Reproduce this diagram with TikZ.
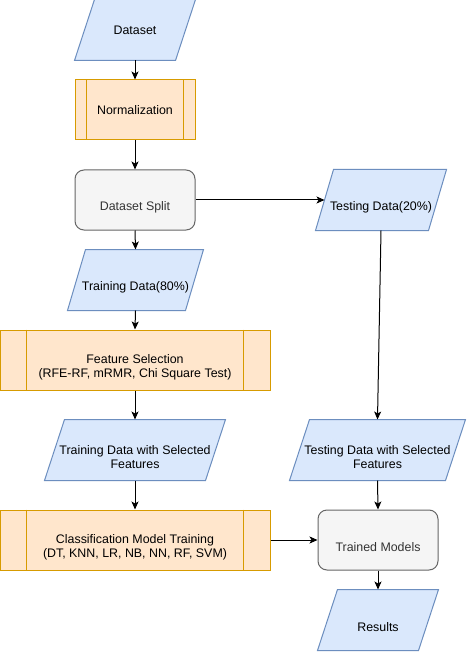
\documentclass[tikz,border=0pt]{standalone}
\usepackage{fontspec}
\setmainfont{Liberation Sans}
\usetikzlibrary{arrows.meta}
\definecolor{bfill}{HTML}{DAE8FC}
\definecolor{bline}{HTML}{6C8EBF}
\definecolor{ofill}{HTML}{FFE6CC}
\definecolor{oline}{HTML}{D79B00}
\definecolor{gfill}{HTML}{F5F5F5}
\definecolor{gline}{HTML}{666666}
\definecolor{gtext}{HTML}{333333}
\begin{document}
\begin{tikzpicture}[x=1pt,y=-1pt,line width=1pt,
  base/.style={inner sep=0pt,minimum height=60pt},
  io/.style={base},
  proc/.style={base,draw=oline,fill=ofill,minimum width=#1},
  term/.style={base,draw=gline,fill=gfill,rounded corners=9pt,minimum width=120pt},
  txt/.style={font=\fontsize{12.4}{14}\selectfont,align=center,inner sep=0pt,text=black},
  txtd/.style={txt,yshift=-7pt},
  flow/.style={-{Stealth[length=8pt,width=7pt,inset=2pt]},line width=1pt,black}]
\useasboundingbox[fill=white] (0,0) rectangle (467,652);

% shapes
\node[io,minimum width=100pt] (ds)  at (135,30) {};
\node[proc=120pt] (norm) at (135,110) {};
\node[term] (split) at (135,200) {};
\node[io,minimum width=117pt] (tr)  at (135.5,280) {};
\node[proc=270pt] (fs) at (135,360) {};
\node[io,minimum width=160pt] (trs) at (135,450) {};
\node[proc=270pt] (cls) at (135,540) {};
\node[io,minimum width=112pt] (ts)  at (381,200) {};
\node[io,minimum width=155pt] (tss) at (377.5,450) {};
\node[term] (tm) at (378,540) {};
\node[io,minimum width=100pt] (res) at (378,620) {};

% parallelogram outlines of the io nodes
\foreach \n/\s in {ds/10,tr/9,trs/10,ts/9,tss/10,res/10}{
  \draw[draw=bline,fill=bfill]
    ([xshift=-\s pt]\n.south west) -- ([xshift=-\s pt]\n.south east) --
    ([xshift=\s pt]\n.north east) -- ([xshift=\s pt]\n.north west) -- cycle;
}

% process inner lines
\foreach \n/\o in {norm/12,fs/27,cls/27}{
  \draw[oline] ([xshift=\o pt]\n.north west) -- ([xshift=\o pt]\n.south west);
  \draw[oline] ([xshift=-\o pt]\n.north east) -- ([xshift=-\o pt]\n.south east);
}

% texts
\node[txt] (ds-t) at (ds) {Dataset};
\node[txt] (norm-t) at (norm) {Normalization};
\node[txtd,text=gtext] (split-t) at (split) {Dataset Split};
\node[txtd] (tr-t) at (tr) {Training Data(80\%)};
\node[txtd] (fs-t) at (fs) {Feature Selection\\(RFE-RF, mRMR, Chi Square Test)};
\node[txtd] (trs-t) at (trs) {Training Data with Selected\\Features};
\node[txtd] (cls-t) at (cls) {Classification Model Training\\(DT, KNN, LR, NB, NN, RF, SVM)};
\node[txtd] (ts-t) at (ts) {Testing Data(20\%)};
\node[txtd] (tss-t) at (tss) {Testing Data with Selected\\Features};
\node[txtd,text=gtext] (tm-t) at (tm) {Trained Models};
\node[txtd] (res-t) at (res) {Results};

% connectors
\draw[flow] (ds.south) -- (norm.north);
\draw[flow] (norm.south) -- (split.north);
\draw[flow] (split.south) -- (tr.north);
\draw[flow] (tr.south) -- (fs.north);
\draw[flow] (fs.south) -- (trs.north);
\draw[flow] (trs.south) -- (cls.north);
\draw[flow] (split.east) -- (ts.west);
\draw[flow] (ts.south) -- (tss.north);
\draw[flow] (cls.east) -- (tm.west);
\draw[flow] (tss.south) -- (tm.north);
\draw[flow] (tm.south) -- (res.north);
\end{tikzpicture}
\end{document}
